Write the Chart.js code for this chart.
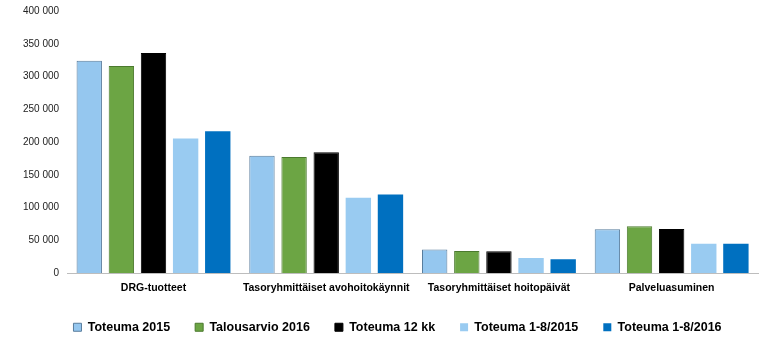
<!DOCTYPE html>
<html>
<head>
<meta charset="utf-8">
<script src="https://cdn.jsdelivr.net/npm/chart.js@4/dist/chart.umd.min.js"></script>
<style>
  html, body { margin: 0; padding: 0; background: #fff; }
  #wrap { width: 776px; height: 359px; }
</style>
</head>
<body>
<div id="wrap"><canvas id="chart" width="776" height="359"></canvas></div>
<script>
// categories and series
const categories = ['DRG-tuotteet', 'Tasoryhmittäiset avohoitokäynnit', 'Tasoryhmittäiset hoitopäivät', 'Palveluasuminen'];
const seriesNames = ['Toteuma 2015', 'Talousarvio 2016', 'Toteuma 12 kk', 'Toteuma 1-8/2015', 'Toteuma 1-8/2016'];
const toteuma2015 = [324000, 179000, 36000, 66800];
const talousarvio2016 = [316000, 177000, 33600, 71300];
const toteuma12kk = [336000, 184500, 33200, 67200];
const toteuma18_2015 = [205500, 115000, 23000, 44800];
const toteuma18_2016 = [216500, 120000, 21000, 44800];
const yTicks = [0, 50000, 100000, 150000, 200000, 250000, 300000, 350000, 400000];

const fills = ['#95c7ef', '#6ca544', '#000000', '#99cbf1', '#0070c0'];
const borders = ['#587c9c', '#4b7a2e', '#000000', '#99cbf1', '#0070c0'];
const borderW = [1, 1, 1, 0, 0];
const values = [toteuma2015, talousarvio2016, toteuma12kk, toteuma18_2015, toteuma18_2016];

function fmt(v) {
    return String(v).replace(/\B(?=(\d{3})+(?!\d))/g, ' ');
}

// legend in the original sits a bit right of centre
const nudgeLegend = {
    id: 'nudgeLegend',
    afterLayout(chart) {
        chart.legend.left += 11;
        chart.legend.right += 11;
    }
};

const ctx = document.getElementById('chart').getContext('2d');
new Chart(ctx, {
    type: 'bar',
    data: {
        labels: categories,
        datasets: seriesNames.map((name, i) => ({
            label: name,
            data: values[i],
            backgroundColor: fills[i],
            borderColor: borders[i],
            borderWidth: borderW[i],
            categoryPercentage: 0.93,
            barPercentage: 0.79
        }))
    },
    plugins: [nudgeLegend],
    options: {
        responsive: false,
        animation: false,
        layout: { padding: { left: 15, right: 18, top: 11, bottom: 15.5 } },
        plugins: {
            tooltip: { enabled: false },
            legend: {
                position: 'bottom',
                labels: {
                    boxWidth: 8,
                    boxHeight: 8,
                    padding: 25,
                    color: '#000',
                    font: { family: 'Liberation Sans, Arial', size: 12.5, weight: 'bold' }
                }
            }
        },
        scales: {
            x: {
                grid: { display: false, drawTicks: false },
                border: { display: true, color: '#bdbdbd', width: 1 },
                ticks: {
                    padding: 9,
                    color: '#000',
                    maxRotation: 0,
                    font: { family: 'Liberation Sans, Arial', size: 10.5, weight: 'bold' }
                },
                afterFit: s => { s.height = 23; }
            },
            y: {
                min: 0,
                max: 400000,
                grid: { display: false, drawTicks: false },
                border: { display: false },
                afterBuildTicks: s => { s.ticks = yTicks.map(v => ({ value: v })); },
                // top label overflow is already covered by layout padding
                afterFit: s => { s.paddingTop = 0; },
                ticks: {
                    padding: 8,
                    color: '#222',
                    font: { family: 'Liberation Sans, Arial', size: 10 },
                    callback: v => fmt(v)
                }
            }
        }
    }
});
</script>
</body>
</html>
